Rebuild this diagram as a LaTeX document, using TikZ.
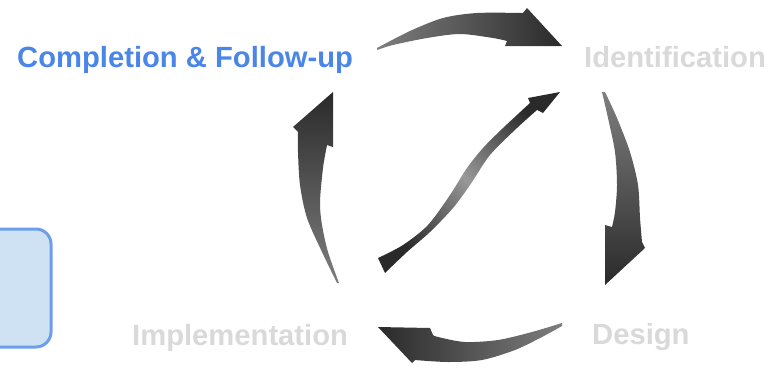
\documentclass[tikz,border=0pt]{standalone}
\usepackage{fontspec}
\setmainfont{Liberation Sans}
\usepackage{xcolor}
\usetikzlibrary{positioning, calc}

\definecolor{stepblue}{HTML}{4A86E8}
\definecolor{stepgray}{HTML}{D9D9D9}
\definecolor{boxfill}{HTML}{CFE2F3}
\definecolor{boxline}{HTML}{6D9EEB}
\definecolor{arrowlight}{HTML}{7E7E7E}
\definecolor{arrowdark}{HTML}{2A2A2A}

\begin{document}
\begin{tikzpicture}[
    x=1pt, y=-1pt,
    % styles
    step_label/.style={
        anchor=base west, inner sep=0pt, font=\fontsize{29.2}{30}\selectfont\bfseries, text=stepgray
    },
    active_label/.style={
        step_label, text=stepblue
    },
    side_box/.style={
        draw=boxline, fill=boxfill, line width=3pt, rounded corners=15pt,
        minimum width=80pt, minimum height=118pt, anchor=north east
    },
    cycle_arrow/.style={
        draw=none, shading=axis
    },
    line join=round
]
    \useasboundingbox (0,0) rectangle (778,367);

    % --- LABELS ---
    \node[active_label] (comp_label) at (17,67) {Completion \& Follow-up};
    \node[step_label] (ident_label) at (584,67) {Identification};
    \node[step_label] (design_label) at (592,344) {Design};
    \node[step_label] (impl_label) at (132,345) {Implementation};

    % --- SIDE BOX (cut at the left edge) ---
    \node[side_box] (side_box) at (52.5,227.5) {};

    % --- CYCLE ARROWS ---
    % top: Completion -> Identification
    \shade[cycle_arrow, left color=arrowlight, right color=arrowdark]
        (377,49) -- plot[smooth] coordinates {(377,48) (410,31) (443,18) (477,13) (523,13)}
        -- (527,8) -- (562,46) -- (505,46) -- (507,41)
        -- plot[smooth] coordinates {(507,41) (493,38) (460,34) (427,38) (393,45) (377,50)} -- cycle;

    % right: Identification -> Design
    \shade[cycle_arrow, top color=arrowlight, bottom color=arrowdark]
        (602,92) -- plot[smooth] coordinates {(605,92) (617,118) (630,152) (638,185) (640,218) (642,242)}
        -- (645,248) -- (605,285) -- (605,225) -- (612,227)
        -- plot[smooth] coordinates {(612,227) (615,212) (617,185) (615,152) (608,118) (602,92)} -- cycle;

    % bottom: Design -> Implementation
    \shade[cycle_arrow, right color=arrowlight, left color=arrowdark]
        (562,323) -- plot[smooth] coordinates {(562,323) (532,332) (498,340) (465,342) (438,337) (433,335)}
        -- (430,328) -- (378,327) -- (412,363) -- (415,360)
        -- plot[smooth] coordinates {(415,360) (448,362) (482,360) (515,350) (542,337) (562,326)} -- cycle;

    % left: Implementation -> Completion
    \shade[cycle_arrow, bottom color=arrowlight, top color=arrowdark]
        (337,283) -- plot[smooth] coordinates {(337,283) (322,252) (307,218) (300,185) (298,152) (298,132)}
        -- (293,127) -- (333,92) -- (333,147) -- (327,145)
        -- plot[smooth] coordinates {(327,145) (323,168) (320,202) (322,225) (328,252) (339,283)} -- cycle;

    % centre: S-shaped shortcut
    \shade[cycle_arrow, top color=arrowdark, bottom color=arrowdark, middle color=arrowlight!80!white, shading angle=-45]
        (378,258) -- plot[smooth] coordinates {(378,258) (403,245) (428,225) (450,195) (467,168) (483,148) (503,128) (530,103)}
        -- (528,98) -- (560,92) -- (543,113) -- (537,110)
        -- plot[smooth] coordinates {(537,110) (517,128) (490,155) (470,185) (453,208) (430,232) (407,252) (385,273)} -- cycle;

\end{tikzpicture}
\end{document}
